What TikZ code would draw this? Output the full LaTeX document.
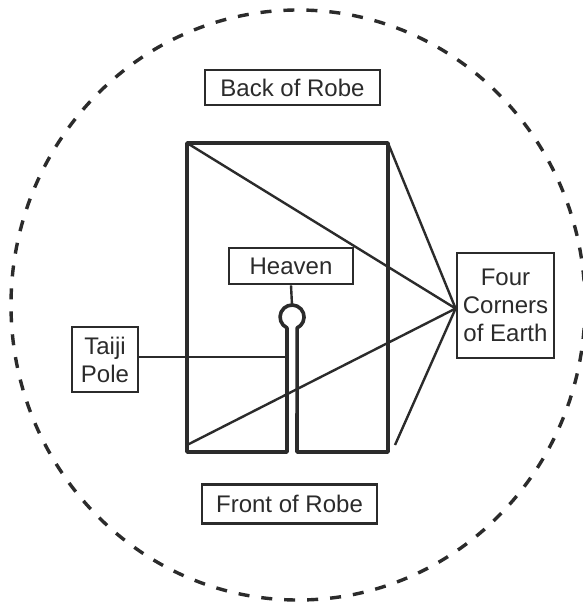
\documentclass[tikz,border=0pt]{standalone}
\usepackage{fontspec}
\setmainfont{Liberation Sans}
\definecolor{ink}{HTML}{2B2B2B}
\begin{document}
\begin{tikzpicture}[x=1pt,y=-1pt,
  labelbox/.style={draw=ink, line width=2.8pt, inner sep=0pt, align=center,
    text=ink, font=\fontsize{24}{28}\selectfont},
  robeline/.style={draw=ink, line width=3.6pt, line join=round},
  ray/.style={draw=ink, line width=2.4pt},
  boundary/.style={draw=ink, line width=3.4pt, dash pattern=on 11pt off 12pt}
]
\useasboundingbox (0,0) rectangle (582,604);
\fill[white] (0,0) rectangle (582,604);
% outer dashed boundary
\draw[boundary] (298,305) ellipse [x radius=287, y radius=295];
% label boxes
\node[labelbox, minimum width=175pt, minimum height=35pt] (back) at (292.5,87.5) {Back of Robe};
\node[labelbox, minimum width=175pt, minimum height=39pt] (front) at (289.5,504) {Front of Robe};
\node[labelbox, minimum width=124pt, minimum height=36pt] (heaven) at (291,266) {Heaven};
\node[labelbox, minimum width=66pt, minimum height=65pt] (taiji) at (105,359.5) {Taiji\\Pole};
\node[labelbox, minimum width=97pt, minimum height=105pt] (earth) at (505.5,305.5) {Four\\Corners\\of Earth};
% robe corners and pole points
\coordinate (tl) at (187,143);
\coordinate (tr) at (388,143);
\coordinate (bl) at (187,452);
\coordinate (br) at (388,452);
\coordinate (brs) at (395,445);
\coordinate (bls) at (187,445);
\coordinate (poleL) at (287,452);
\coordinate (poleR) at (297,452);
\coordinate (ringtop) at (292,305);
\coordinate (poleJoin) at (287,357);
\coordinate (meet) at ([yshift=-3pt]earth.west);
% robe with the pole and ring
\draw[robeline] (bl) -- (poleL) -- (287,327.9)
  arc[start angle=115, end angle=425, radius=12] -- (poleR) -- (br) -- (tr) -- (tl) -- cycle;
% connectors
\draw[ray] (heaven.south) -- (ringtop);
\draw[ray] (taiji.east |- poleJoin) -- (poleJoin);
\draw[ray] (tl) -- (meet);
\draw[ray] (tr) -- (meet);
\draw[ray] (bls) -- (meet);
\draw[ray] (brs) -- (meet);
\end{tikzpicture}
\end{document}
